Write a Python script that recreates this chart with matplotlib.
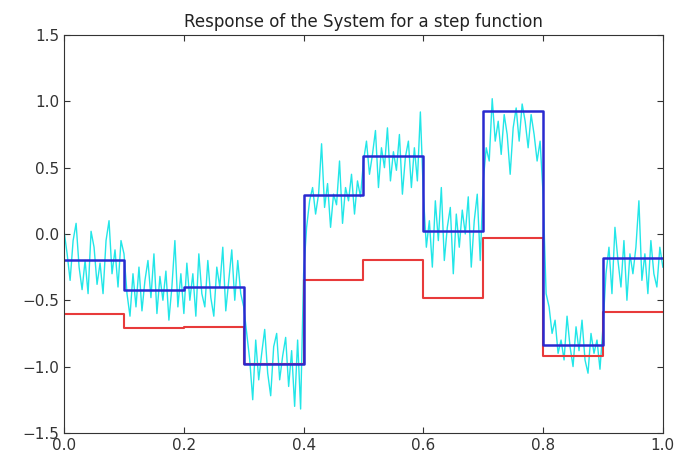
import matplotlib
matplotlib.use("Agg")
import matplotlib.pyplot as plt
import numpy as np

# step edges and levels (one level per 0.1 interval)
step_edges = [0.0, 0.1, 0.2, 0.3, 0.4, 0.5, 0.6, 0.7, 0.8, 0.9, 1.0]
blue_levels = [-0.20, -0.42, -0.40, -0.98, 0.29, 0.59, 0.02, 0.93, -0.84, -0.18]
red_levels = [-0.60, -0.71, -0.70, -0.98, -0.35, -0.20, -0.48, -0.03, -0.92, -0.59]

resp_x = [i / 200 for i in range(201)]
resp_y = [
    0.02, -0.15, -0.35, -0.05, 0.08, -0.25, -0.42, -0.20, -0.45, 0.02,
    -0.10, -0.38, -0.22, -0.45, -0.05, 0.10, -0.30, -0.12, -0.40, -0.05,
    -0.15, -0.45, -0.62, -0.30, -0.55, -0.25, -0.58, -0.35, -0.20, -0.48,
    -0.15, -0.60, -0.32, -0.50, -0.28, -0.65, -0.40, -0.05, -0.55, -0.30,
    -0.60, -0.22, -0.50, -0.30, -0.62, -0.15, -0.45, -0.55, -0.20, -0.48,
    -0.62, -0.25, -0.40, -0.10, -0.58, -0.35, -0.12, -0.50, -0.20, -0.45,
    -0.55, -0.75, -0.95, -1.25, -0.80, -1.10, -0.90, -0.72, -1.05, -1.22,
    -0.85, -0.75, -1.10, -0.92, -0.78, -1.15, -0.88, -1.30, -0.80, -1.32,
    -0.30, 0.05, 0.25, 0.35, 0.15, 0.30, 0.68, 0.20, 0.38, 0.05,
    0.30, 0.22, 0.55, 0.08, 0.35, 0.25, 0.45, 0.15, 0.40, 0.28,
    0.55, 0.70, 0.45, 0.60, 0.78, 0.35, 0.65, 0.50, 0.80, 0.40,
    0.62, 0.48, 0.75, 0.30, 0.58, 0.70, 0.35, 0.65, 0.40, 0.92,
    0.30, -0.10, 0.10, -0.25, 0.25, -0.05, 0.35, -0.20, 0.05, 0.20,
    -0.30, 0.15, -0.10, 0.18, 0.00, 0.28, -0.25, 0.10, 0.30, -0.20,
    0.40, 0.65, 0.55, 1.02, 0.70, 0.85, 0.60, 0.90, 0.75, 0.45,
    0.80, 0.95, 0.70, 0.98, 0.85, 0.65, 0.90, 0.75, 0.55, 0.70,
    0.30, -0.45, -0.55, -0.75, -0.65, -0.90, -0.80, -0.95, -0.62, -0.85,
    -1.00, -0.70, -0.88, -0.65, -0.95, -1.05, -0.75, -0.90, -0.80, -1.02,
    -0.70, -0.30, -0.10, -0.45, 0.05, -0.20, -0.40, -0.05, -0.50, -0.15,
    -0.30, -0.10, 0.25, -0.35, -0.15, -0.45, -0.05, -0.30, -0.40, -0.10,
    -0.25,
]


def main():
    fig = plt.figure(figsize=(6.75, 4.61), dpi=100)
    ax = fig.add_axes([0.095, 0.061, 0.887, 0.863])

    ax.plot(resp_x, resp_y, color='#22e6e8', lw=1.0)
    ax.plot(step_edges, red_levels + [red_levels[-1]], color='#e83a3a',
            lw=1.5, drawstyle='steps-post')
    ax.plot(step_edges, blue_levels + [blue_levels[-1]], color='#2a2ad0',
            lw=1.8, drawstyle='steps-post')

    ax.set_xlim(0, 1)
    ax.set_ylim(-1.5, 1.5)
    ax.set_xticks(np.arange(0, 1.01, 0.2))
    ax.set_yticks(np.arange(-1.5, 1.51, 0.5))
    ax.tick_params(direction='in', top=True, right=True, labelsize=11,
                   length=4, colors='#333333')
    for s in ax.spines.values():
        s.set_color('#333333')
    ax.set_title('Response of the System for a step function', fontsize=12,
                 color='#222222')

    fig.savefig('out.png')


if __name__ == "__main__":
    main()
